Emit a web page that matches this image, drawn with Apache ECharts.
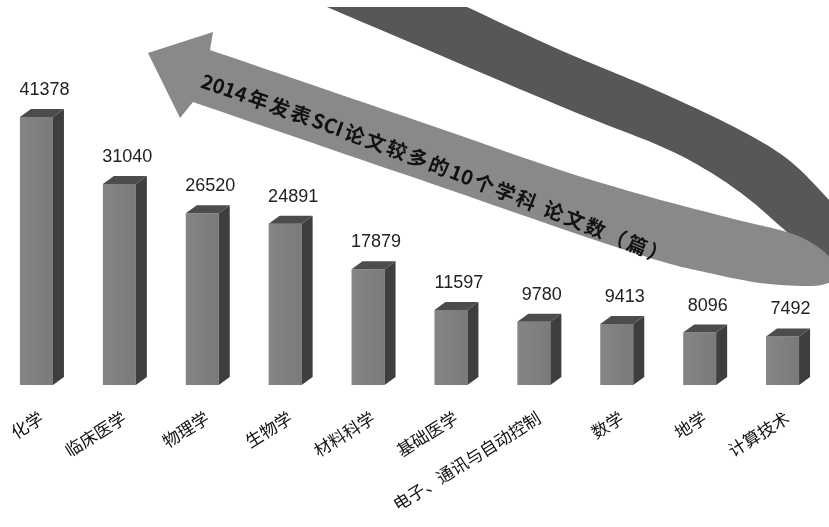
<!DOCTYPE html>
<html><head><meta charset="utf-8">
<script src="https://cdn.jsdelivr.net/npm/echarts@6/dist/echarts.min.js"></script>
<style>html,body{margin:0;padding:0;background:#fff}#c{width:829px;height:527px}</style>
</head><body><div id="c"></div>
<script>
// ---- data ----
const categories = ['化学','临床医学','物理学','生物学','材料科学','基础医学','电子、通讯与自动控制','数学','地学','计算技术'];
const paperCounts = [41378,31040,26520,24891,17879,11597,9780,9413,8096,7492];
const arrowTitle = '2014年发表SCI论文较多的10个学科 论文数（篇）';

// ---- decoration helpers ----
function crSample(pts, n) {
  const out = [];
  for (let i = 0; i < pts.length - 1; i++) {
    const p0 = pts[Math.max(i - 1, 0)], p1 = pts[i], p2 = pts[i + 1], p3 = pts[Math.min(i + 2, pts.length - 1)];
    for (let k = 0; k < n; k++) {
      const t = k / n, t2 = t * t, t3 = t2 * t;
      const f = (a, b, c, d) => 0.5 * ((2 * b) + (-a + c) * t + (2 * a - 5 * b + 4 * c - d) * t2 + (-a + 3 * b - 3 * c + d) * t3);
      out.push([f(p0[0], p1[0], p2[0], p3[0]), f(p0[1], p1[1], p2[1], p3[1])]);
    }
  }
  out.push(pts[pts.length - 1]);
  return out;
}
// dark back part of the ribbon
const darkTopEdge = [[467,7],[560,50],[660,92],[740,130],[790,161],[831,202]];
const darkInnerEdge = [[831,268],[787,232],[750,200],[710,172],[660,146],[560,106],[327,7]];
const darkPoly = [[327,7]].concat(crSample(darkTopEdge, 10), crSample(darkInnerEdge, 10));
// light front part with arrow head
const lightTop = [[210,50],[330,91],[450,132],[560,170],[650,197],[730,218],[790,233],[815,245],[831,258]];
const lightBottom = [[831,282],[812,286],[760,283],[700,271],[660,261],[580,235],[450,190],[330,149],[193,102]];
const lightPoly = crSample(lightTop, 8).concat(crSample(lightBottom, 8));
lightPoly.push([180,118],[148,53],[213,32]);

// title characters laid along the arrow
const fontSpec = 'bold 20px "Noto Sans CJK SC"';
const cv = document.createElement('canvas').getContext('2d');
cv.font = fontSpec;
const chars = Array.from(arrowTitle);
const widths = chars.map(ch => cv.measureText(ch).width || 20);
const isAlnum = ch => /[0-9A-Za-z]/.test(ch);
const tight = chars.slice(0, -1).map((ch, i) => isAlnum(ch) && isAlnum(chars[i + 1]));
const totalW = widths.reduce((a, b) => a + b, 0);
const targetLen = 498;
const nLoose = tight.filter(t => !t).length;
const tightGap = 0;
const looseGap = Math.max(0, (targetLen - totalW - tightGap * (tight.length - nLoose)) / nLoose);
const ang0 = 19 * Math.PI / 180, ang1 = 23 * Math.PI / 180;
let px = 202, py = 80, acc = 0;
const titleEls = [];
chars.forEach((ch, i) => {
  const a = ang0 + (ang1 - ang0) * (acc / targetLen);
  const half = widths[i] / 2;
  const cx = px + half * Math.cos(a), cy = py + half * Math.sin(a);
  titleEls.push({
    type: 'text', z: 10, x: cx, y: cy, rotation: -a,
    style: { text: ch, font: fontSpec, fill: '#111', align: 'center', verticalAlign: 'middle' }
  });
  const step = widths[i] + (i < tight.length ? (tight[i] ? tightGap : looseGap) : 0);
  px += step * Math.cos(a); py += step * Math.sin(a); acc += step;
});

const chart = echarts.init(document.getElementById('c'), null, { renderer: 'canvas' });
const FRONT_W = 33, DEPTH = 11, RISE = 8;

chart.setOption({
  backgroundColor: '#ffffff',
  animation: false,
  grid: { left: 0, top: 0, width: 838, height: 385 },
  xAxis: {
    type: 'category',
    data: categories,
    axisLine: { show: false },
    axisTick: { show: false },
    axisLabel: {
      interval: 0, rotate: 32, margin: 31,
      fontSize: 17, color: '#111', fontFamily: '"Noto Sans CJK SC", sans-serif'
    }
  },
  yAxis: { type: 'value', min: 0, max: 59441, show: false, splitLine: { show: false } },
  graphic: { elements: [
    { type: 'polygon', z: 1, shape: { points: darkPoly }, style: { fill: '#575757' } },
    { type: 'polygon', z: 2, shape: { points: lightPoly }, style: { fill: '#898989' } }
  ].concat(titleEls) },
  series: [{
    type: 'custom',
    data: paperCounts.map((v, i) => [categories[i], v]),
    encode: { x: 0, y: 1 },
    renderItem: function (params, api) {
      const top = api.coord([api.value(0), api.value(1)]);
      const base = api.coord([api.value(0), 0]);
      const fl = top[0] - 21.5;
      const fr = fl + FRONT_W;
      const yt = top[1], yb = base[1];
      return {
        type: 'group',
        children: [
          { type: 'rect', shape: { x: fl, y: yt, width: FRONT_W, height: yb - yt },
            style: { fill: new echarts.graphic.LinearGradient(0, 0, 1, 0, [{ offset: 0, color: '#858585' }, { offset: 1, color: '#7a7a7a' }]) } },
          { type: 'polygon', shape: { points: [[fr, yt], [fr + DEPTH, yt - RISE], [fr + DEPTH, yb - RISE], [fr, yb]] },
            style: { fill: '#3e3e3e' } },
          { type: 'polygon', shape: { points: [[fl, yt], [fl + DEPTH, yt - RISE], [fr + DEPTH, yt - RISE], [fr, yt]] },
            style: { fill: '#4c4c4c' } },
          { type: 'text', x: fl + 24.5, y: yt - 27,
            style: { text: String(api.value(1)), fill: '#222', align: 'center', verticalAlign: 'middle',
              font: '18px "Liberation Sans", Arial, sans-serif' } }
        ]
      };
    }
  }]
});
</script>
</body></html>
